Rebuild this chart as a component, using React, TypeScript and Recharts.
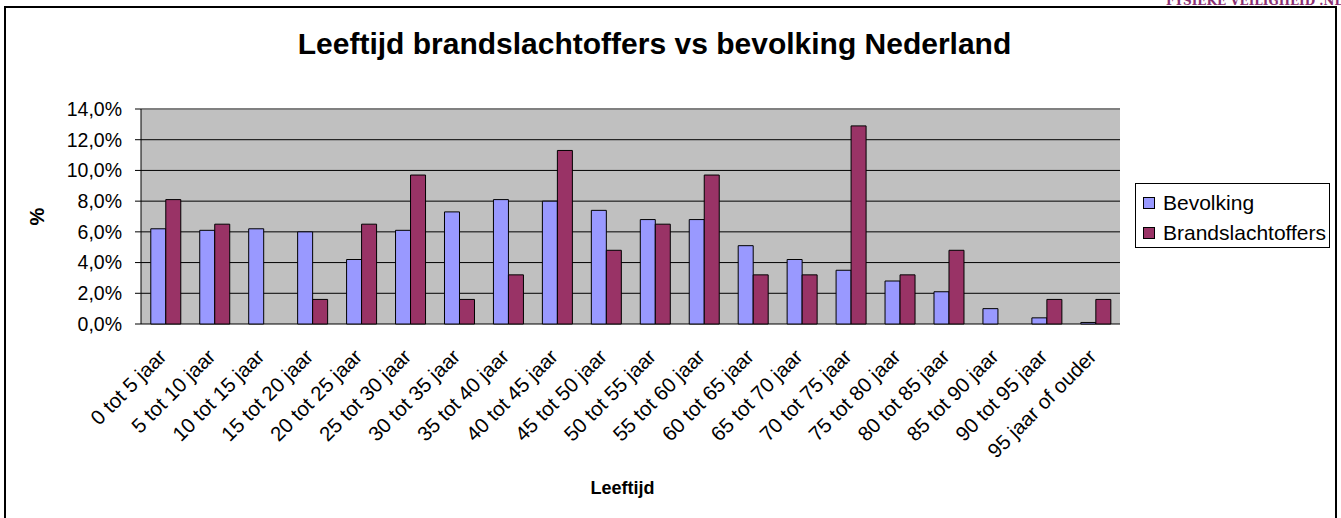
import React from 'react'
import { BarChart, Bar, XAxis, YAxis, CartesianGrid, Legend, ReferenceLine, Label } from 'recharts'

const categories = [
  '0 tot 5 jaar', '5 tot 10 jaar', '10 tot 15 jaar', '15 tot 20 jaar', '20 tot 25 jaar',
  '25 tot 30 jaar', '30 tot 35 jaar', '35 tot 40 jaar', '40 tot 45 jaar', '45 tot 50 jaar',
  '50 tot 55 jaar', '55 tot 60 jaar', '60 tot 65 jaar', '65 tot 70 jaar', '70 tot 75 jaar',
  '75 tot 80 jaar', '80 tot 85 jaar', '85 tot 90 jaar', '90 tot 95 jaar', '95 jaar of ouder',
]
const bevolking = [6.2, 6.1, 6.2, 6.0, 4.2, 6.1, 7.3, 8.1, 8.0, 7.4, 6.8, 6.8, 5.1, 4.2, 3.5, 2.8, 2.1, 1.0, 0.4, 0.1]
const brandslachtoffers = [8.1, 6.5, 0, 1.6, 6.5, 9.7, 1.6, 3.2, 11.3, 4.8, 6.5, 9.7, 3.2, 3.2, 12.9, 3.2, 4.8, 0, 1.6, 1.6]
const yTicks = [0, 2, 4, 6, 8, 10, 12, 14]
// grenzen tussen de categorieën, voor de streepjes op de x-as
const boundaryTicks = [0, 1, 2, 3, 4, 5, 6, 7, 8, 9, 10, 11, 12, 13, 14, 15, 16, 17, 18, 19, 20]

const FONT = 'Arial, "Liberation Sans", sans-serif'
const C_BEV = '#9999FF'
const C_BRAND = '#993366'

const data = categories.map((name, i) => ({
  name,
  Bevolking: bevolking[i],
  Brandslachtoffers: brandslachtoffers[i],
}))

const fmtPct = (v: number) => v.toFixed(1).replace('.', ',') + '%'

function AgeTick({ x, y, payload }: any) {
  return (
    <g transform={`translate(${x},${y})`}>
      <text x={0} y={0} dx={-21} dy={24} textAnchor="end" transform="rotate(-45)"
        fontSize={20.5} fontFamily={FONT} fill="#000">
        {payload.value}
      </text>
    </g>
  )
}

function LegendBox({ payload }: any) {
  return (
    <div style={styles.legend}>
      {(payload ?? []).map((p: any) => (
        <div key={p.value} style={styles.legendItem}>
          <span style={{ ...styles.swatch, background: p.color }} />
          {p.value}
        </div>
      ))}
    </div>
  )
}

export default function App() {
  return (
    <div style={styles.page}>
      <div style={styles.frame} />
      <div style={styles.site}>FYSIEKE VEILIGHEID .NL</div>
      <div style={styles.title}>Leeftijd brandslachtoffers vs bevolking Nederland</div>
      <div style={{ position: 'absolute', left: 0, top: 0 }}>
        <BarChart width={1341} height={518} data={data}
          margin={{ top: 109, right: 26, bottom: 0, left: 0 }}
          barCategoryGap="20%" barGap={0}>
          <CartesianGrid vertical={false} fill="#C0C0C0" stroke="#000" strokeOpacity={1} />
          <XAxis xAxisId="b" type="number" domain={[0, 20]} ticks={boundaryTicks}
            tick={false} tickLine={{ stroke: '#000' }} tickSize={6}
            axisLine={{ stroke: '#000' }} height={0} />
          <XAxis xAxisId="cat" dataKey="name" interval={0} height={194}
            axisLine={false} tickLine={false} tickSize={0} tick={<AgeTick />}>
            <Label value="Leeftijd" position="insideBottom" offset={24} dx={-8}
              style={{ fontFamily: FONT, fontSize: 18, fontWeight: 700, fill: '#000' }} />
          </XAxis>
          <YAxis domain={[0, 14]} ticks={yTicks} tickFormatter={fmtPct} width={141}
            tickSize={6} tickMargin={13} interval={0}
            axisLine={{ stroke: '#000' }} tickLine={{ stroke: '#000' }}
            tick={{ fontSize: 19.5, fontFamily: FONT, fill: '#000' }}>
            <Label value="%" angle={-90} position="insideLeft" offset={37} textAnchor="middle"
              style={{ fontFamily: FONT, fontSize: 20, fontWeight: 700, fill: '#000' }} />
          </YAxis>
          <ReferenceLine y={14} stroke="#808080" strokeWidth={2} />
          <ReferenceLine x={20} xAxisId="b" stroke="#808080" strokeWidth={2} />
          <Legend layout="vertical" align="right" verticalAlign="top" content={<LegendBox />}
            wrapperStyle={{ position: 'absolute', left: 1135, top: 183, width: 195 }} />
          <Bar xAxisId="cat" dataKey="Bevolking" fill={C_BEV} stroke="#000" strokeWidth={1} isAnimationActive={false} />
          <Bar xAxisId="cat" dataKey="Brandslachtoffers" fill={C_BRAND} stroke="#000" strokeWidth={1} isAnimationActive={false} />
        </BarChart>
      </div>
    </div>
  )
}

const styles: Record<string, React.CSSProperties> = {
  page: { position: 'fixed', left: 0, top: 0, width: 1341, height: 518, background: '#fff', overflow: 'hidden' },
  frame: {
    position: 'absolute', left: 4, top: 6, width: 1333, height: 540,
    border: '2px solid #000', boxSizing: 'border-box',
  },
  site: {
    position: 'absolute', left: 1166, top: -6, whiteSpace: 'nowrap',
    fontFamily: '"DejaVu Serif", serif', fontWeight: 700, fontSize: 12, color: '#8B2F73',
  },
  title: {
    position: 'absolute', left: 0, width: 1309, top: 27, textAlign: 'center',
    fontFamily: FONT, fontWeight: 700, fontSize: 30, color: '#000',
  },
  legend: {
    border: '1px solid #000', background: '#fff', padding: '4px 0 0 7px', height: 65,
    fontFamily: FONT, fontSize: 21, color: '#000', boxSizing: 'border-box', width: 195,
  },
  legendItem: { display: 'flex', alignItems: 'center', height: 30, whiteSpace: 'nowrap' },
  swatch: {
    display: 'inline-block', width: 12, height: 12, border: '1px solid #000',
    marginRight: 8, boxSizing: 'border-box',
  },
}
